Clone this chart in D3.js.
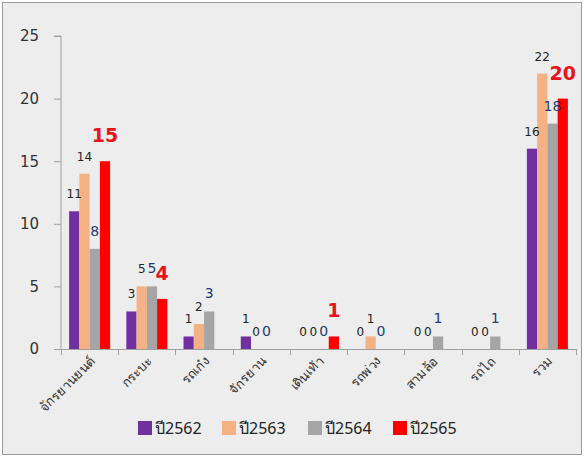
<!DOCTYPE html>
<html><head><meta charset="utf-8">
<script src="https://cdn.jsdelivr.net/npm/d3@7"></script>
<style>
html,body{margin:0;padding:0;background:#fff;}
svg{display:block;font-family:"Noto Sans","DejaVu Sans",sans-serif;}
</style></head>
<body><svg id="c" width="585" height="457"></svg>
<script>
const categories = ["จักรยานยนต์","กระบะ","รถเก๋ง","จักรยาน","เดินเท้า","รถพ่วง","สามล้อ","รถไถ","รวม"];
const seriesNames = ["ปี2562","ปี2563","ปี2564","ปี2565"];
const v2562 = [11,3,1,1,0,0,0,0,16];
const v2563 = [14,5,2,0,0,1,0,0,22];
const v2564 = [8,5,3,0,0,0,1,1,18];
const v2565 = [15,4,0,0,1,0,0,0,20];
const yTicks = [0,5,10,15,20,25];

const colors = ["#7030a0","#f4b183","#a5a5a5","#ff0000"];
const labelStyle = [
  {fill:"#222", size:12, weight:"normal", dy:-13},
  {fill:"#222", size:12, weight:"normal", dy:-13},
  {fill:"#1f3c78", size:14, weight:"normal", dy:-13},
  {fill:"#e8161c", size:19, weight:"bold", dy:-19}
];
const series = [v2562,v2563,v2564,v2565];

const svg = d3.select("#c");
svg.append("rect").attr("x",2.5).attr("y",2.5).attr("width",579).attr("height",452)
  .attr("fill","#ededed").attr("stroke","#9a9a9a");

const x0 = 61, x1 = 576, yTop = 36, yBot = 349;
const x = d3.scaleBand().domain(categories).range([x0,x1]).padding(0);
const xs = d3.scaleBand().domain(seriesNames).range([8.1, x.bandwidth()-8.1]).padding(0);
const y = d3.scaleLinear().domain([0,25]).range([yBot,yTop]);

// y axis
const ya = svg.append("g").attr("transform",`translate(${x0},0)`)
  .call(d3.axisLeft(y).tickValues(yTicks).tickSize(7).tickPadding(15).tickFormat(d3.format("d")));
ya.select(".domain").attr("stroke","#a0a0a0").attr("d",`M-7,${yTop}H0V${yBot}`);
ya.selectAll(".tick line").attr("stroke","#a0a0a0");
ya.selectAll(".tick text").attr("fill","#333").style("font-size","15px").style("font-family","'DejaVu Sans',sans-serif");

// bars
series.forEach((vals,si)=>{
  svg.append("g").selectAll("rect").data(vals).join("rect")
    .attr("x",(d,i)=>x(categories[i])+xs(seriesNames[si]))
    .attr("width",xs.bandwidth())
    .attr("y",d=>y(d))
    .attr("height",d=>y(0)-y(d))
    .attr("fill",colors[si]);
});

// x axis
const xa = svg.append("g").attr("transform",`translate(0,${yBot})`);
xa.append("line").attr("x1",x0).attr("x2",x1).attr("y1",0.5).attr("y2",0.5).attr("stroke","#a0a0a0");
const bounds = categories.map(c=>x(c)).concat([x1]);
xa.selectAll("line.t").data(bounds).join("line").attr("class","t")
  .attr("x1",d=>Math.round(d)+0.5).attr("x2",d=>Math.round(d)+0.5).attr("y1",0).attr("y2",6).attr("stroke","#a0a0a0");
xa.selectAll("text").data(categories).join("text")
  .attr("transform",d=>`translate(${x(d)+x.bandwidth()/2+6},${13}) rotate(-45)`)
  .attr("text-anchor","end").attr("fill","#333").style("font-size","13px").text(d=>d);

// data labels
series.forEach((vals,si)=>{
  const st = labelStyle[si];
  svg.append("g").selectAll("text").data(vals.map((v,i)=>({v,i})).filter(d=>!(si===3 && d.v===0))).join("text")
    .attr("x",d=>x(categories[d.i])+xs(seriesNames[si])+xs.bandwidth()/2)
    .attr("y",d=>y(d.v)+st.dy)
    .attr("text-anchor","middle")
    .attr("fill",st.fill).style("font-size",st.size+"px").style("font-weight",st.weight)
    .style("font-family","'DejaVu Sans',sans-serif")
    .text(d=>d.v);
});

// legend
const legX = [138,222,308,393];
const lg = svg.append("g");
seriesNames.forEach((n,i)=>{
  lg.append("rect").attr("x",legX[i]).attr("y",421).attr("width",14).attr("height",14).attr("fill",colors[i]);
  lg.append("text").attr("x",legX[i]+17).attr("y",434).attr("fill","#222").style("font-size","16px").text(n);
});
</script></body></html>
